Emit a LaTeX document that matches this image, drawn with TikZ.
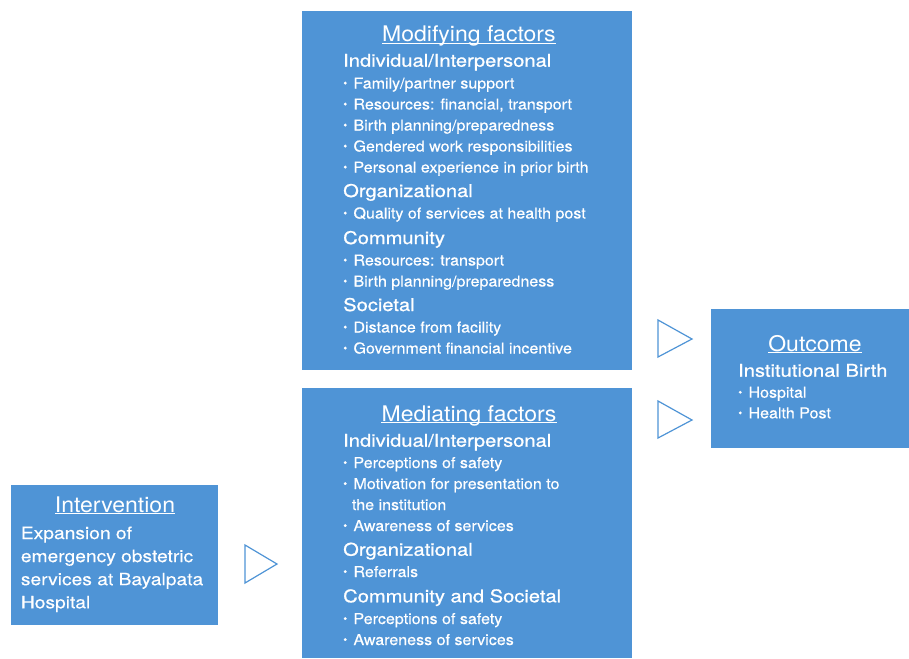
\documentclass[tikz,border=0pt]{standalone}
\usepackage{fontspec}
\setmainfont{TeX Gyre Heros}
\newfontfamily\bodyfont[FakeStretch=1.07,FakeBold=0.3]{TeX Gyre Heros}
\newfontfamily\titlefont[FakeStretch=1.07]{TeX Gyre Heros}
\newfontfamily\headfont[FakeStretch=1.15,FakeBold=0.9]{TeX Gyre Heros}
\newfontfamily\plainfont[FakeStretch=1.13,FakeBold=0.3]{TeX Gyre Heros}
\usetikzlibrary{positioning}
\definecolor{boxblue}{RGB}{79,148,214}
\newcommand{\bul}{\makebox[10.3pt][l]{\raisebox{1.6pt}{\fontsize{11}{11}\selectfont •}}}
\tikzset{
	box/.style = {fill=boxblue, draw=none, inner sep=0pt, outer sep=0pt, anchor=north west},
	ttl/.style = {text=white, font=\titlefont\fontsize{21.5}{22}\selectfont, inner sep=0pt, anchor=base},
	hdr/.style = {text=white, font=\headfont\fontsize{17.5}{18}\selectfont, inner sep=0pt, anchor=base west},
	itm/.style = {text=white, font=\bodyfont\fontsize{15}{15}\selectfont, inner sep=0pt, anchor=base west},
	uline/.style = {white, line width=0.9pt},
	tri/.style = {draw=boxblue, line width=1.2pt, fill=white, line join=miter}
}

\begin{document}
\begin{tikzpicture}[x=1pt, y=-1pt]
			\useasboundingbox (0,0) rectangle (909,658);
			%boxes
			\node[box, minimum width=330pt, minimum height=359pt] (modbox) at (302,11) {};
			\node[box, minimum width=330pt, minimum height=270pt] (medbox) at (302,388) {};
			\node[box, minimum width=198pt, minimum height=139pt] (outbox) at (711,309) {};
			\node[box, minimum width=207pt, minimum height=140pt] (intbox) at (11,485) {};
			%modifying factors
			\node[ttl] (modt) at (469,42) {Modifying factors};
			\draw[uline] ([yshift=-1.2pt]modt.base west) -- ([yshift=-1.2pt]modt.base east);
			\node[hdr] (modh1) at (343,66.7) {Individual/Interpersonal};
			\foreach \txt [count=\i from 0] in {{Family/partner support},{Resources: financial, transport},{Birth planning/preparedness},{Gendered work responsibilities},{Personal experience in prior birth}}
				\node[itm] (modi-\i) at (343,88.5+21*\i) {\bul\txt};
			\node[hdr] (modh2) at (343,197) {Organizational};
			\node[itm] (modo) at (343,218.5) {\bul Quality of services at health post};
			\node[hdr] (modh3) at (343,244) {Community};
			\foreach \txt [count=\i from 0] in {{Resources: transport},{Birth planning/preparedness}}
				\node[itm] (modc-\i) at (343,265.5+21*\i) {\bul\txt};
			\node[hdr] (modh4) at (343,311) {Societal};
			\foreach \txt [count=\i from 0] in {{Distance from facility},{Government financial incentive}}
				\node[itm] (mods-\i) at (343,332.5+21*\i) {\bul\txt};
			%mediating factors
			\node[ttl] (medt) at (469,421.5) {Mediating factors};
			\draw[uline] ([yshift=-1.2pt]medt.base west) -- ([yshift=-1.2pt]medt.base east);
			\node[hdr] (medh1) at (343,446.7) {Individual/Interpersonal};
			\node[itm] (medi-0) at (343,468) {\bul Perceptions of safety};
			\node[itm] (medi-1) at (343,489) {\bul Motivation for presentation to};
			\node[itm] (medi-2) at (351.7,510) {the institution};
			\node[itm] (medi-3) at (343,531) {\bul Awareness of services};
			\node[hdr] (medh2) at (343,555.7) {Organizational};
			\node[itm] (medo) at (343,577) {\bul Referrals};
			\node[hdr] (medh3) at (343,602.3) {Community and Societal};
			\foreach \txt [count=\i from 0] in {{Perceptions of safety},{Awareness of services}}
				\node[itm] (medc-\i) at (343,624+21*\i) {\bul\txt};
			%outcome
			\node[ttl] (outt) at (815,351.5) {Outcome};
			\draw[uline] ([yshift=-1.2pt]outt.base west) -- ([yshift=-1.2pt]outt.base east);
			\node[hdr] (outh) at (738,376.7) {Institutional Birth};
			\node[itm] (outi-0) at (738,397.7) {\bul Hospital};
			\node[itm] (outi-1) at (738,418.3) {\bul Health Post};
			%intervention
			\node[ttl] (intt) at (115,512.7) {Intervention};
			\draw[uline] ([yshift=-1.2pt]intt.base west) -- ([yshift=-1.2pt]intt.base east);
			\foreach \txt [count=\i from 0] in {{Expansion of},{emergency obstetric},{services at Bayalpata},{Hospital}}
				\node[itm, font=\plainfont\fontsize{17}{17}\selectfont] (intl-\i) at (20.7,539+23.1*\i) {\txt};
			%triangles
			\draw[tri] (658,320) -- (692,339) -- (658,357) -- cycle;
			\draw[tri] (658,401) -- (692,420) -- (658,438) -- cycle;
			\draw[tri] (245,545) -- (277,564) -- (245,583) -- cycle;
		\end{tikzpicture}
\end{document}
